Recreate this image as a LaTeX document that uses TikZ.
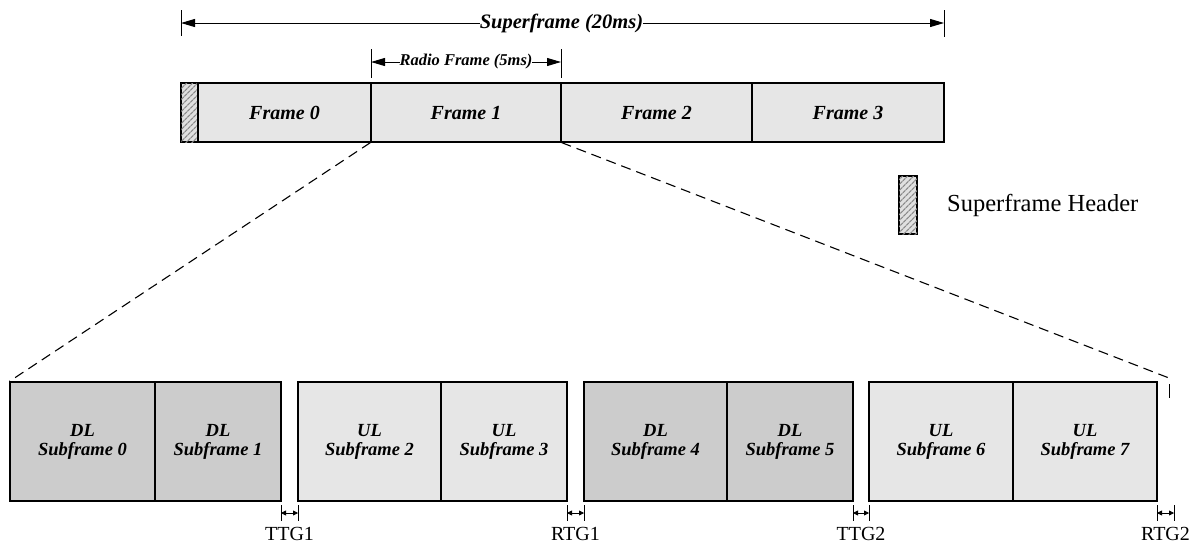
\documentclass[tikz,border=0pt]{standalone}
\usepackage{fontspec}
\setmainfont{Liberation Serif}
\usetikzlibrary{arrows.meta,patterns.meta}
\definecolor{ulgray}{HTML}{E6E6E6}
\definecolor{dlgray}{HTML}{CCCCCC}
\definecolor{hatchbg}{HTML}{E0E0E0}
\definecolor{hatchfg}{HTML}{8C8C8C}
\tikzset{
  box/.style={draw, line width=1.2pt, inner sep=0pt, anchor=center},
  frm/.style={box, fill=ulgray, minimum height=59pt, font=\fontsize{20}{24}\selectfont\bfseries\itshape},
  sub/.style={box, minimum height=119pt, align=center, font=\fontsize{18.5}{19}\selectfont\bfseries\itshape},
  ulbox/.style={sub, fill=ulgray},
  dlbox/.style={sub, fill=dlgray},
  hatchbox/.style={box, fill=hatchbg, postaction={pattern={Lines[angle=45,distance=4pt,line width=1.3pt]}, pattern color=hatchfg}},
  dimline/.style={{Triangle[length=14pt,width=8pt]}-{Triangle[length=14pt,width=8pt]}, line width=1pt},
  gapline/.style={{Triangle[length=5pt,width=5pt]}-{Triangle[length=5pt,width=5pt]}, line width=0.8pt},
  tick/.style={line width=1pt},
  gaplbl/.style={font=\fontsize{20}{24}\selectfont, inner sep=0pt},
  dashconn/.style={line width=1.1pt, dash pattern=on 10pt off 6pt}
}
\begin{document}
\begin{tikzpicture}[x=1pt, y=-1pt]
\useasboundingbox (0,0) rectangle (1196,544);

% top frame bar
\node[hatchbox, minimum width=17pt, minimum height=59pt] (hdr) at (189.5,112.5) {};
\node[frm, minimum width=173pt] (f0) at (284.5,112.5) {Frame 0};
\node[frm, minimum width=190pt] (f1) at (466,112.5) {Frame 1};
\node[frm, minimum width=191pt] (f2) at (656.5,112.5) {Frame 2};
\node[frm, minimum width=192pt] (f3) at (848,112.5) {Frame 3};

% superframe dimension
\coordinate (sfL) at (181,23);
\coordinate (sfR) at (944,23);
\draw[tick] (181,10) -- (181,36);
\draw[tick] (944,10) -- (944,37);
\draw[dimline] (sfL) -- (sfR);
\node[fill=white, inner sep=0pt, font=\fontsize{20.5}{24}\selectfont\bfseries\itshape] (sflbl) at (561.5,23) {Superframe (20ms)};

% radio frame dimension
\coordinate (rfL) at (371,62);
\coordinate (rfR) at (561,62);
\draw[tick] (371,49) -- (371,78);
\draw[tick] (561,49) -- (561,78);
\draw[dimline] (rfL) -- (rfR);
\node[fill=white, inner sep=0pt, font=\fontsize{16.5}{20}\selectfont\bfseries\itshape] (rflbl) at (466,62) {Radio Frame (5ms)};

% legend
\node[hatchbox, minimum width=18pt, minimum height=58pt] (leg) at (908,205) {};
\node[anchor=west, inner sep=0pt, font=\fontsize{24.5}{28}\selectfont] (leglbl) at (947,205) {Superframe Header};

% subframes
\node[dlbox, minimum width=145pt] (s0) at (82.5,441.5) {DL\\Subframe 0};
\node[dlbox, minimum width=126pt] (s1) at (218,441.5) {DL\\Subframe 1};
\node[ulbox, minimum width=143pt] (s2) at (369.5,441.5) {UL\\Subframe 2};
\node[ulbox, minimum width=126pt] (s3) at (504,441.5) {UL\\Subframe 3};
\node[dlbox, minimum width=143pt] (s4) at (655.5,441.5) {DL\\Subframe 4};
\node[dlbox, minimum width=126pt] (s5) at (790,441.5) {DL\\Subframe 5};
\node[ulbox, minimum width=144pt] (s6) at (941,441.5) {UL\\Subframe 6};
\node[ulbox, minimum width=144pt] (s7) at (1085,441.5) {UL\\Subframe 7};

% zoom lines
\coordinate (zr) at (1169,378);
\coordinate (zrEnd) at (1169,398);
\draw[dashconn] (f1.south west) -- (s0.north west);
\draw[dashconn] (f1.south east) -- (zr);
\draw[line width=1pt] (1169,384) -- (zrEnd);

% gaps
\foreach \a/\b/\lbl/\n in {281/298/TTG1/g1, 567/584/RTG1/g2, 853/869/TTG2/g3, 1157/1174/RTG2/g4}{
  \draw[tick] (\a,505) -- (\a,521);
  \draw[tick] (\b,505) -- (\b,521);
  \coordinate (\n L) at (\a,513);
  \coordinate (\n R) at (\b,513);
  \draw[gapline] (\n L) -- (\n R);
  \node[gaplbl] (\n lbl) at ({(\a+\b)/2},534) {\lbl};
}
\end{tikzpicture}
\end{document}
